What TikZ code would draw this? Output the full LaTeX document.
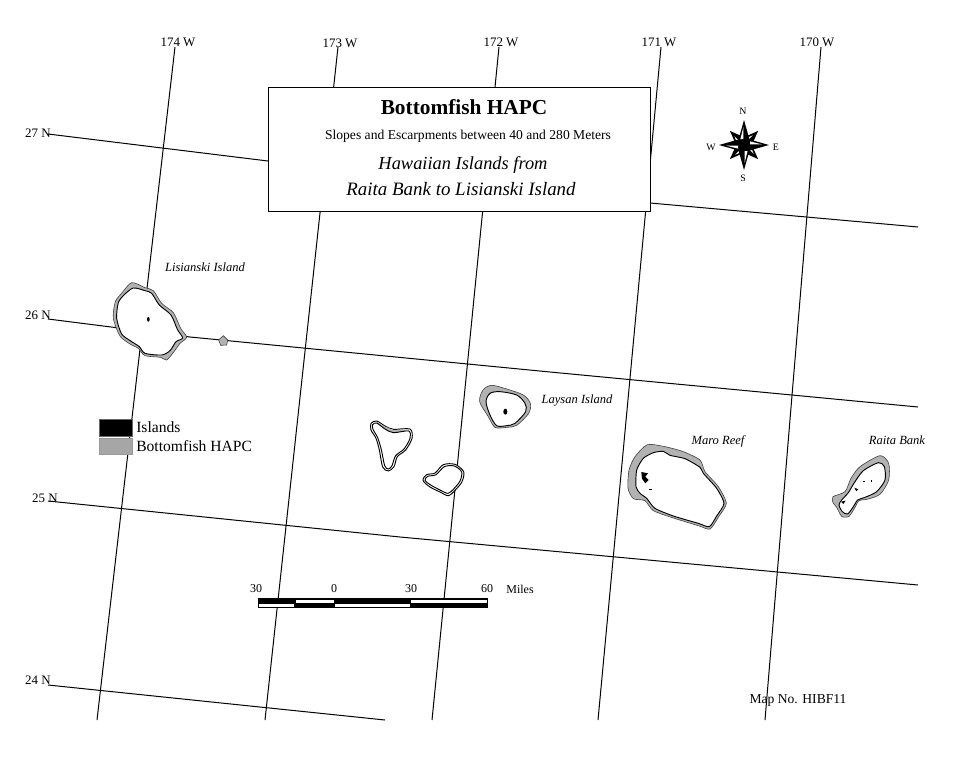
\documentclass[tikz,border=0pt]{standalone}
\usepackage{fontspec}
\setmainfont{Liberation Serif}
\definecolor{hapc}{RGB}{178,178,178}
\newcommand{\pxfont}[1]{\fontsize{#1}{#1}\selectfont}
\tikzset{
  grid line/.style={draw=black,line width=0.75pt},
  axis label/.style={inner sep=0pt,font=\pxfont{9.7pt}},
  place label/.style={inner sep=0pt,font=\pxfont{9.4pt}\itshape},
  legend text/.style={inner sep=0pt,anchor=west,font=\pxfont{11.7pt}},
  scale text/.style={inner sep=0pt,font=\pxfont{9pt}},
  reef/.style={draw=black!75,line width=0.45pt,fill=hapc},
  atoll ring/.style={draw=black,line width=0.7pt,fill=white},
  lagoon/.style={draw=black,line width=0.7pt,fill=white},
  speck/.style={fill=black},
  compass text/.style={inner sep=0pt,font=\pxfont{7.4pt}}
}
\begin{document}
\begin{tikzpicture}[x=0.75pt,y=-0.75pt]
\useasboundingbox[fill=white] (0,0) rectangle (959,767);
% graticule
\coordinate (m174a) at (175,47); \coordinate (m174b) at (97,720);
\coordinate (m173a) at (338,47); \coordinate (m173b) at (265,720);
\coordinate (m172a) at (499,47); \coordinate (m172b) at (432,720);
\coordinate (m171a) at (661,47); \coordinate (m171b) at (598,720);
\coordinate (m170a) at (821,47); \coordinate (m170b) at (765,720);
\draw[grid line] (m174a) -- (m174b);
\draw[grid line] (m173a) -- (m173b);
\draw[grid line] (m172a) -- (m172b);
\draw[grid line] (m171a) -- (m171b);
\draw[grid line] (m170a) -- (m170b);
\draw[grid line] (48,134) -- (268,161) -- (650,203) -- (918,227);
\draw[grid line] (48,319) -- (190,337) -- (550,372) -- (918,407);
\draw[grid line] (48,501) -- (400,537) -- (918,585);
\draw[grid line] (48,685) -- (385,720);
\node[axis label] (l174) at (178,42) {174 W};
\node[axis label] (l173) at (340,43) {173 W};
\node[axis label] (l172) at (501,42) {172 W};
\node[axis label] (l171) at (659,42) {171 W};
\node[axis label] (l170) at (817,42) {170 W};
\node[axis label] (n27) at (38,133) {27 N};
\node[axis label] (n26) at (38,315) {26 N};
\node[axis label] (n25) at (45,498) {25 N};
\node[axis label] (n24) at (38,680) {24 N};
% title box
\node[draw=black,fill=white,line width=0.75pt,minimum width=286.5pt,minimum height=93pt,inner sep=0pt] (box) at (459,149) {};
\node[inner sep=0pt,font=\pxfont{16pt}\bfseries] (title) at (464,107) {Bottomfish HAPC};
\node[inner sep=0pt,font=\pxfont{10.2pt}] (sub) at (468,136) {Slopes and Escarpments between 40 and 280 Meters};
\node[inner sep=0pt,font=\pxfont{13.8pt}\itshape] (hi1) at (463,165) {Hawaiian Islands from};
\node[inner sep=0pt,font=\pxfont{14.2pt}\itshape] (hi2) at (461,189) {Raita Bank to Lisianski Island};
% Lisianski
\begin{scope}[shift={(90,260)},scale=1/3]
\draw[reef] plot[smooth cycle,tension=.45] coordinates {(125,68)(165,83)(190,92)(215,130)(250,158)(272,205)(290,232)(270,250)(252,275)(230,300)(212,292)(165,287)(145,265)(120,252)(90,228)(70,175)(76,125)(95,100)};
\draw[lagoon] plot[smooth cycle,tension=.45] coordinates {(130,84)(165,92)(185,100)(208,135)(243,165)(262,208)(278,234)(258,245)(240,272)(215,285)(165,280)(148,260)(122,243)(95,222)(80,175)(85,128)(102,105)};
\fill[speck] (175,178) ellipse (4 and 7);
\draw[reef] (400,227) -- (413,240) -- (410,255) -- (392,256) -- (386,240) -- cycle;
\end{scope}
\node[place label] (lis) at (205,267) {Lisianski Island};
% central atolls
\begin{scope}[shift={(360,375)},scale=1/3]
\draw[atoll ring] plot[smooth cycle,tension=.5] coordinates {(33,145)(50,138)(75,153)(100,163)(150,162)(156,190)(137,225)(112,245)(102,275)(85,288)(68,276)(58,225)(48,190)(33,165)};
\fill[hapc] (50,140) -- (75,155) -- (100,165) -- (148,164) -- (148,170) -- (100,175) -- (75,164) -- (50,146) -- cycle;
\draw[lagoon] plot[smooth cycle,tension=.5] coordinates {(38,149)(50,144)(75,162)(100,173)(146,168)(150,190)(132,222)(107,242)(96,272)(85,282)(74,272)(64,224)(53,188)(39,163)};
\draw[atoll ring] plot[smooth cycle,tension=.5] coordinates {(189,316)(200,299)(225,294)(250,269)(285,268)(311,290)(306,320)(286,345)(265,362)(240,351)(210,336)};
\draw[lagoon] plot[smooth cycle,tension=.5] coordinates {(195,316)(203,304)(228,299)(253,275)(283,273)(305,291)(300,318)(281,342)(264,355)(242,346)(212,330)};
\draw[reef] plot[smooth cycle,tension=.5] coordinates {(359,80)(369,45)(395,31)(440,42)(490,60)(511,85)(506,115)(470,151)(440,157)(405,157)(385,125)};
\draw[lagoon] plot[smooth cycle,tension=.5] coordinates {(378,80)(390,55)(420,50)(470,60)(495,85)(497,110)(465,145)(440,152)(410,152)(390,120)};
\fill[speck] (436,110) ellipse (6 and 9);
\end{scope}
\node[place label] (lay) at (577,400) {Laysan Island};
% Maro Reef
\begin{scope}[shift={(620,430)},scale=1/3]
\draw[reef] plot[smooth cycle,tension=.4] coordinates {(82,44)(135,50)(190,65)(240,90)(255,125)(295,170)(319,220)(296,260)(270,297)(235,287)(160,264)(100,242)(75,212)(40,206)(24,175)(27,120)(45,80)};
\draw[lagoon] plot[smooth cycle,tension=.4] coordinates {(130,64)(150,76)(195,86)(240,112)(250,130)(290,175)(312,220)(290,258)(268,290)(235,280)(160,258)(105,235)(80,205)(60,190)(48,170)(50,120)(70,85)(100,68)};
\fill[speck] (64,126) -- (84,130) -- (76,140) -- (86,150) -- (76,160) -- (66,146) -- cycle;
\fill[speck] (87,176) rectangle (96,179);
\end{scope}
\node[place label] (maro) at (718,441) {Maro Reef};
% Raita Bank
\begin{scope}[shift={(825,450)},scale=1/3]
\draw[reef] plot[smooth cycle,tension=.45] coordinates {(24,140)(60,125)(78,85)(105,50)(165,17)(191,40)(191,90)(166,132)(130,147)(102,152)(90,172)(72,199)(50,199)(35,172)(24,158)};
\draw[lagoon] plot[smooth cycle,tension=.45] coordinates {(50,150)(70,128)(88,98)(115,62)(160,38)(178,50)(180,90)(155,125)(120,142)(98,150)(85,170)(68,192)(52,185)(42,165)};
\fill[speck] (48,155) -- (62,152) -- (55,162) -- cycle;
\fill[speck] (88,113) -- (100,118) -- (94,124) -- cycle;
\fill[speck] (113,92) rectangle (120,95);
\fill[speck] (138,90) rectangle (142,95);
\end{scope}
\node[place label] (raita) at (897,440) {Raita Bank};
% legend
\node[draw=black!60,line width=0.3pt,fill=black,minimum width=24.5pt,minimum height=12.5pt,inner sep=0pt] (swatchA) at (115.5,427.5) {};
\node[draw=black!40,line width=0.3pt,fill=black!35,minimum width=24.5pt,minimum height=12pt,inner sep=0pt] (swatchB) at (115.5,446) {};
\node[legend text] (legA) at (136,427) {Islands};
\node[legend text] (legB) at (136,446) {Bottomfish HAPC};
% compass
\begin{scope}[shift={(744,145)}]
\foreach \a/\r in {45/20,135/20,225/20,315/20,0/25,90/25,180/25,270/25}{
  \begin{scope}[rotate=\a]
    \fill[black] (0,0) -- (5.5,5.5) -- (\r,0) -- (5.5,-5.5) -- cycle;
    \fill[white] (6,-0.6) -- (\r-7,-0.6) -- (6,-3.6) -- cycle;
  \end{scope}
}
\end{scope}
\node[compass text] (cn) at (743,111) {N};
\node[compass text] (cs) at (743,178) {S};
\node[compass text] (cw) at (711,147) {W};
\node[compass text] (ce) at (776,147) {E};
% scale bar
\fill[black] (257.5,598) rectangle (488,608);
\fill[white] (295.5,599.5) rectangle (333.5,603);
\fill[white] (411,599.5) rectangle (487,603);
\fill[white] (258.5,604) rectangle (294,606.5);
\fill[white] (335,604) rectangle (410,606.5);
\node[scale text] (s30a) at (256,589) {30};
\node[scale text] (s0) at (334,589) {0};
\node[scale text] (s30b) at (411,589) {30};
\node[scale text] (s60) at (487,589) {60};
\node[scale text] (smi) at (520,589) {Miles};
\node[inner sep=0pt,font=\pxfont{10.2pt}] (mapno) at (798,700) {Map No. HIBF11};
\end{tikzpicture}
\end{document}
